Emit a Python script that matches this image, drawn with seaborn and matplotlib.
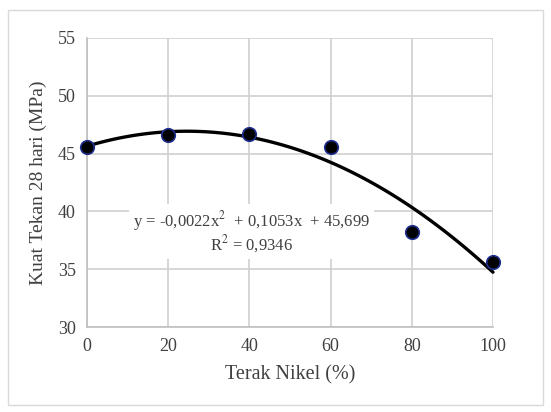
import numpy as np
import pandas as pd
import matplotlib
matplotlib.use("Agg")
import matplotlib.pyplot as plt
import seaborn as sns

# data
terak_nikel = [0, 20, 40, 60, 80, 100]
kuat_tekan = [45.6, 46.6, 46.7, 45.6, 38.2, 35.6]
eq_text = "y = -0,0022x$^2$  + 0,1053x  + 45,699\nR$^2$ = 0,9346"

df = pd.DataFrame({"x": terak_nikel, "y": kuat_tekan})

sns.set_theme(style="whitegrid")
plt.rcParams['font.family'] = ['Liberation Serif', 'DejaVu Serif']
plt.rcParams['mathtext.fontset'] = 'stix'

fig = plt.figure(figsize=(5.51, 4.12), dpi=100)
ax = fig.add_axes([87 / 551, 1 - 327 / 412, (493 - 87) / 551, (327 - 38) / 412])

# outer frame around the whole chart
fig.patches.append(plt.Rectangle((8 / 551, 7 / 412), 535 / 551, 395 / 412,
                                 transform=fig.transFigure, fill=False,
                                 edgecolor="#d9d9d9", linewidth=1))

sns.regplot(data=df, x="x", y="y", order=2, ci=None, ax=ax,
            scatter_kws=dict(s=95, color="black", edgecolors="#1f2f8f",
                             linewidths=1.2, zorder=4, alpha=1, clip_on=False),
            line_kws=dict(color="black", linewidth=2.4, zorder=3, clip_on=False))

ax.set_xlim(0, 100)
ax.set_ylim(30, 55)
ax.set_xticks(terak_nikel)
ax.set_yticks([30, 35, 40, 45, 50, 55])
ax.grid(True, color="#d0d0d0", linewidth=1.2)
for side in ["top", "right"]:
    ax.spines[side].set_visible(False)
for side in ["left", "bottom"]:
    ax.spines[side].set_color("#bfbfbf")
    ax.spines[side].set_linewidth(1.2)
ax.tick_params(labelsize=13, colors="#404040", length=0, pad=8)

ax.set_xlabel("Terak Nikel (%)", fontsize=14.5, color="#404040", labelpad=7)
ax.set_ylabel("Kuat Tekan 28 hari (MPa)", fontsize=14, color="#404040", labelpad=8)

ax.text(40.5, 38.2, eq_text, ha="center", va="center", fontsize=12,
        color="#404040", linespacing=1.0, zorder=5,
        bbox=dict(facecolor="white", edgecolor="none", pad=3))

fig.savefig("out.png", dpi=100)
